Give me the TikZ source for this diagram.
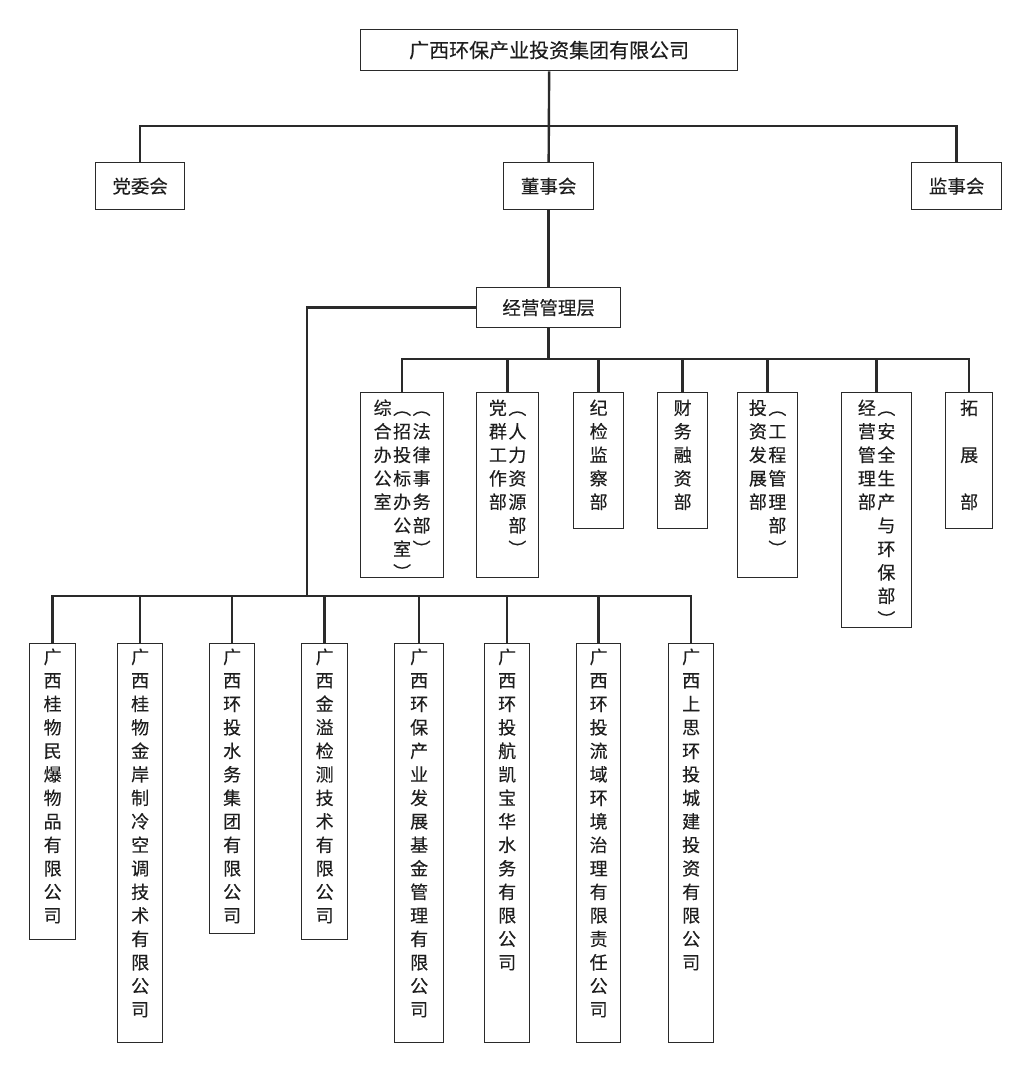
\documentclass[tikz,border=0pt]{standalone}
\usepackage{fontspec}
\newfontfamily\cjk[FakeBold=0.15]{Noto Sans CJK SC}
\definecolor{ln}{HTML}{2A2A2A}
\definecolor{tx}{HTML}{1E1E1E}
\newcommand{\cs}{@{\hspace{1.5pt}}}
\tikzset{
 box/.style={draw=ln, line width=1.3pt, rectangle, inner sep=0pt, anchor=north west, text=tx},
 conn/.style={draw=ln, line width=2.4pt},
 htext/.style={font=\cjk\fontsize{18.5}{22}\selectfont},
 vtext/.style={inner sep=0pt, anchor=north, text=tx, font=\cjk\fontsize{18}{23.5}\selectfont},
}
\begin{document}
\begin{tikzpicture}[x=1pt,y=-1pt]
\useasboundingbox[fill=white] (0,0) rectangle (1030,1071);
% top levels
\node[box, minimum width=377pt, minimum height=41pt, font=\cjk\fontsize{20}{24}\selectfont] (top) at (360,29) {广西环保产业投资集团有限公司};
\node[box, htext, minimum width=89pt, minimum height=47pt] (dangwei) at (95,162) {党委会};
\node[box, htext, minimum width=90pt, minimum height=47pt] (dongshi) at (503,162) {董事会};
\node[box, htext, minimum width=90pt, minimum height=47pt] (jianshi) at (911,162) {监事会};
\node[box, htext, minimum width=144pt, minimum height=40pt] (mgmt) at (476,287) {经营管理层};
\coordinate (hbus) at (0,126);
\coordinate (dbus) at (0,359);
\coordinate (sdrop) at (307,596);
% departments
\node[box, minimum width=83pt, minimum height=185pt] (d1) at (360,392) {};
\node[box, minimum width=62pt, minimum height=185pt] (d2) at (476,392) {};
\node[box, minimum width=50pt, minimum height=136pt] (d3) at (573,392) {};
\node[box, minimum width=50pt, minimum height=136pt] (d4) at (657,392) {};
\node[box, minimum width=60pt, minimum height=185pt] (d5) at (737,392) {};
\node[box, minimum width=70pt, minimum height=235pt] (d6) at (841,392) {};
\node[box, minimum width=47pt, minimum height=136pt] (d7) at (945,392) {};
% subsidiaries
\node[box, minimum width=46pt, minimum height=296pt] (s1) at (29,643) {};
\node[box, minimum width=45pt, minimum height=399pt] (s2) at (117,643) {};
\node[box, minimum width=45pt, minimum height=290pt] (s3) at (209,643) {};
\node[box, minimum width=46pt, minimum height=296pt] (s4) at (301,643) {};
\node[box, minimum width=49pt, minimum height=399pt] (s5) at (394,643) {};
\node[box, minimum width=45pt, minimum height=399pt] (s6) at (484,643) {};
\node[box, minimum width=44pt, minimum height=399pt] (s7) at (576,643) {};
\node[box, minimum width=45pt, minimum height=399pt] (s8) at (668,643) {};
% department texts
\node[vtext] (d1t) at ([yshift=-6pt]d1.north) {\begin{tabular}{@{}c\cs c\cs c@{}}
综&︵&︵\\ 合&招&法\\ 办&投&律\\ 公&标&事\\ 室&办&务\\ &公&部\\ &室&︶\\ &︶&
\end{tabular}};
\node[vtext] (d2t) at ([yshift=-6pt]d2.north) {\begin{tabular}{@{}c\cs c@{}}
党&︵\\ 群&人\\ 工&力\\ 作&资\\ 部&源\\ &部\\ &︶
\end{tabular}};
\node[vtext] (d3t) at ([yshift=-6pt]d3.north) {\begin{tabular}{@{}c@{}}纪\\检\\监\\察\\部\end{tabular}};
\node[vtext] (d4t) at ([yshift=-6pt]d4.north) {\begin{tabular}{@{}c@{}}财\\务\\融\\资\\部\end{tabular}};
\node[vtext] (d5t) at ([yshift=-6pt]d5.north) {\begin{tabular}{@{}c\cs c@{}}
投&︵\\ 资&工\\ 发&程\\ 展&管\\ 部&理\\ &部\\ &︶
\end{tabular}};
\node[vtext] (d6t) at ([yshift=-6pt]d6.north) {\begin{tabular}{@{}c\cs c@{}}
经&︵\\ 营&安\\ 管&全\\ 理&生\\ 部&产\\ &与\\ &环\\ &保\\ &部\\ &︶
\end{tabular}};
\node[vtext] (d7t) at ([yshift=-6pt]d7.north) {\begin{tabular}{@{}c@{}}拓\\ \\展\\ \\部\end{tabular}};
% subsidiary texts
\node[vtext] (s1t) at ([yshift=-4pt]s1.north) {\begin{tabular}{@{}c@{}}广\\西\\桂\\物\\民\\爆\\物\\品\\有\\限\\公\\司\end{tabular}};
\node[vtext] (s2t) at ([yshift=-4pt]s2.north) {\begin{tabular}{@{}c@{}}广\\西\\桂\\物\\金\\岸\\制\\冷\\空\\调\\技\\术\\有\\限\\公\\司\end{tabular}};
\node[vtext] (s3t) at ([yshift=-4pt]s3.north) {\begin{tabular}{@{}c@{}}广\\西\\环\\投\\水\\务\\集\\团\\有\\限\\公\\司\end{tabular}};
\node[vtext] (s4t) at ([yshift=-4pt]s4.north) {\begin{tabular}{@{}c@{}}广\\西\\金\\溢\\检\\测\\技\\术\\有\\限\\公\\司\end{tabular}};
\node[vtext] (s5t) at ([yshift=-4pt]s5.north) {\begin{tabular}{@{}c@{}}广\\西\\环\\保\\产\\业\\发\\展\\基\\金\\管\\理\\有\\限\\公\\司\end{tabular}};
\node[vtext] (s6t) at ([yshift=-4pt]s6.north) {\begin{tabular}{@{}c@{}}广\\西\\环\\投\\航\\凯\\宝\\华\\水\\务\\有\\限\\公\\司\end{tabular}};
\node[vtext] (s7t) at ([yshift=-4pt]s7.north) {\begin{tabular}{@{}c@{}}广\\西\\环\\投\\流\\域\\环\\境\\治\\理\\有\\限\\责\\任\\公\\司\end{tabular}};
\node[vtext] (s8t) at ([yshift=-4pt]s8.north) {\begin{tabular}{@{}c@{}}广\\西\\上\\思\\环\\投\\城\\建\\投\\资\\有\\限\\公\\司\end{tabular}};
% connectors: top level
\draw[conn] (top.south) -- (dongshi.north);
\draw[conn] (dangwei.north) |- (jianshi.north |- hbus) -- (jianshi.north);
\draw[conn] (dongshi.south) -- (mgmt.north);
% departments bus
\draw[conn] (mgmt.south) -- (mgmt.south |- dbus);
\draw[conn] (d1.north) |- (d7.north |- dbus) -- (d7.north);
\foreach \d in {d2,d3,d4,d5,d6}
  \draw[conn] (\d.north) -- (\d.north |- dbus);
% subsidiaries bus
\draw[conn] (mgmt.west) -| (sdrop);
\draw[conn] (s1.north) |- (s8.north |- sdrop) -- (s8.north);
\foreach \s in {s2,s3,s4,s5,s6,s7}
  \draw[conn] (\s.north) -- (\s.north |- sdrop);
\end{tikzpicture}
\end{document}
